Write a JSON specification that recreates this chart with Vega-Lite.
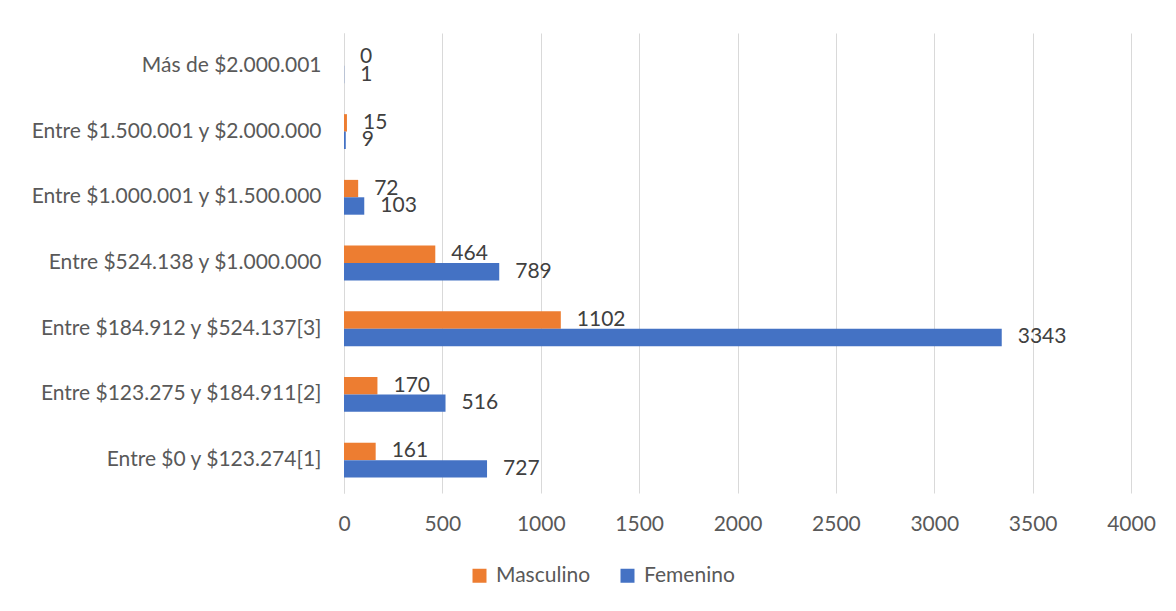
{
  "$schema": "https://vega.github.io/schema/vega-lite/v6.json",
  "autosize": {"type": "none"},
  "padding": {"left": 344, "top": 33, "right": 45, "bottom": 118},
  "width": 787,
  "height": 460,
  "background": "white",
  "config": {
    "view": {"stroke": null},
    "font": "Lato",
    "axis": {"labelFont": "Lato", "labelFontSize": 21, "labelColor": "#595959"},
    "legend": {"labelFont": "Lato", "labelFontSize": 21, "labelColor": "#595959"}
  },
  "data": {
    "values": [
      {"rango": "Más de $2.000.001", "sexo": "Masculino", "valor": 0},
      {"rango": "Más de $2.000.001", "sexo": "Femenino", "valor": 1},
      {"rango": "Entre $1.500.001 y $2.000.000", "sexo": "Masculino", "valor": 15},
      {"rango": "Entre $1.500.001 y $2.000.000", "sexo": "Femenino", "valor": 9},
      {"rango": "Entre $1.000.001 y $1.500.000", "sexo": "Masculino", "valor": 72},
      {"rango": "Entre $1.000.001 y $1.500.000", "sexo": "Femenino", "valor": 103},
      {"rango": "Entre $524.138 y $1.000.000", "sexo": "Masculino", "valor": 464},
      {"rango": "Entre $524.138 y $1.000.000", "sexo": "Femenino", "valor": 789},
      {"rango": "Entre $184.912 y $524.137[3]", "sexo": "Masculino", "valor": 1102},
      {"rango": "Entre $184.912 y $524.137[3]", "sexo": "Femenino", "valor": 3343},
      {"rango": "Entre $123.275 y $184.911[2]", "sexo": "Masculino", "valor": 170},
      {"rango": "Entre $123.275 y $184.911[2]", "sexo": "Femenino", "valor": 516},
      {"rango": "Entre $0 y $123.274[1]", "sexo": "Masculino", "valor": 161},
      {"rango": "Entre $0 y $123.274[1]", "sexo": "Femenino", "valor": 727}
    ]
  },
  "encoding": {
    "y": {
      "field": "rango",
      "type": "nominal",
      "sort": null,
      "title": null,
      "scale": {"paddingInner": 0.47, "paddingOuter": 0.235},
      "axis": {"domain": true, "domainColor": "#d9d9d9", "domainWidth": 1, "ticks": false, "labelPadding": 23, "labelLimit": 0, "grid": false}
    },
    "yOffset": {"field": "sexo", "type": "nominal", "sort": ["Masculino", "Femenino"]},
    "x": {
      "field": "valor",
      "type": "quantitative",
      "title": null,
      "scale": {"domain": [0, 4000], "nice": false},
      "axis": {"values": [0, 500, 1000, 1500, 2000, 2500, 3000, 3500, 4000], "format": "d", "grid": true, "gridColor": "#d9d9d9", "gridWidth": 1, "domain": false, "ticks": false, "labelPadding": 20, "labelFlush": false}
    }
  },
  "layer": [
    {
      "mark": {"type": "bar"},
      "encoding": {
        "color": {
          "field": "sexo",
          "type": "nominal",
          "sort": ["Masculino", "Femenino"],
          "scale": {"domain": ["Masculino", "Femenino"], "range": ["#ED7D31", "#4472C4"]},
          "legend": {"title": null, "orient": "none", "direction": "horizontal", "legendX": 125, "legendY": 532, "symbolType": "square", "symbolSize": 196, "symbolStrokeWidth": 0, "columnPadding": 26, "labelOffset": 6}
        }
      }
    },
    {
      "mark": {"type": "text", "align": "left", "baseline": "middle", "dx": 16, "fontSize": 21, "color": "#404040", "font": "Lato"},
      "encoding": {"text": {"field": "valor", "type": "quantitative", "format": "d"}}
    }
  ]
}
